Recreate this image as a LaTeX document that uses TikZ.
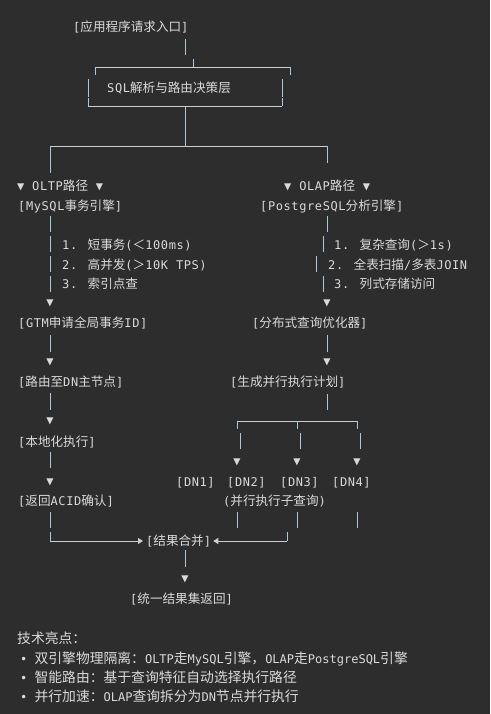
\documentclass[tikz,border=0pt]{standalone}
\usepackage{fontspec}
\setmainfont{DejaVu Sans Mono}[LetterSpace=5]
\newfontfamily\cjk{Noto Sans CJK SC}[Scale=1.05]
\newfontfamily\cjkbig{Noto Sans CJK SC}[Scale=1.15]
\newfontfamily\monobig{DejaVu Sans Mono}
\newcommand\zh[1]{{\cjk #1}}
\newcommand\zhb[1]{{\cjkbig #1}}
\usetikzlibrary{arrows.meta}
\definecolor{bg}{HTML}{2D2D2D}
\definecolor{fg}{HTML}{DADADA}
\definecolor{barcol}{HTML}{A9C9E0}
\definecolor{rulecol}{HTML}{CDCDCD}

\begin{document}
\begin{tikzpicture}[x=1pt, y=-1pt,
		txt/.style={anchor=west, inner sep=0pt, text=fg, text height=9.5pt, text depth=0pt, font=\fontsize{12}{14}\selectfont},
		note/.style={txt, font=\fontsize{12}{14}\monobig},
		tri/.style={inner sep=0pt, text=fg, font=\fontsize{12}{14}\selectfont},
		bar/.style={barcol, line width=1pt},
		rule/.style={rulecol, line width=0.8pt}]
		\fill[bg] (0,0) rectangle (490,714);
		% entry and decision layer
		\node[txt] (entry) at (73,27) {[\zh{应用程序请求入口}]};
		\draw[bar] (185,39) -- (185,55);
		\draw[bar] (193,59) -- (193,67);
		\draw[rule] (95,67) -- (290,67);
		\draw[bar] (95,67) -- (95,75);
		\draw[bar] (290,67) -- (290,75);
		\draw[bar] (88,79) -- (88,97);
		\draw[bar] (282,79) -- (282,97);
		\node[txt] (parse) at (107,88) {SQL\zh{解析与路由决策层}};
		\draw[bar] (88,98) -- (88,106);
		\draw[bar] (282,98) -- (282,106);
		\draw[rule] (88,106) -- (282,106);
		\draw[bar] (185,107) -- (185,146);
		\draw[rule] (50,146) -- (327,146);
		\draw[bar] (50,146) -- (50,173);
		\draw[bar] (327,146) -- (327,163);
		% OLTP path
		\node[txt] (oltp) at (17,186) {▼ OLTP\zh{路径} ▼};
		\node[txt] (mysql) at (18,206) {[MySQL\zh{事务引擎}]};
		\draw[bar] (50,216) -- (50,232);
		\foreach \y in {244,264,284}
			\draw[bar] (50,\y-8) -- (50,\y+8);
		\node[txt] (tp1) at (62,245) {1. \zh{短事务}(\zh{＜}100ms)};
		\node[txt] (tp2) at (62,265) {2. \zh{高并发}(\zh{＞}10K TPS)};
		\node[txt] (tp3) at (62,284) {3. \zh{索引点查}};
		\node[tri] at (50,303) {▼};
		\node[txt] (gtm) at (18,323) {[GTM\zh{申请全局事务}ID]};
		\draw[bar] (50,335) -- (50,352);
		\node[tri] at (50,362) {▼};
		\node[txt] (route) at (18,382) {[\zh{路由至}DN\zh{主节点}]};
		\draw[bar] (50,393) -- (50,410);
		\node[tri] at (50,421) {▼};
		\node[txt] (local) at (18,442) {[\zh{本地化执行}]};
		\draw[bar] (50,452) -- (50,468);
		\node[tri] at (50,482) {▼};
		\node[txt] (acid) at (18,501) {[\zh{返回}ACID\zh{确认}]};
		\draw[bar] (50,512) -- (50,528);
		% OLAP path
		\node[txt] (olap) at (284,186) {▼ OLAP\zh{路径} ▼};
		\node[txt] (pg) at (260,206) {[PostgreSQL\zh{分析引擎}]};
		\draw[bar] (327,216) -- (327,232);
		\draw[bar] (323,236) -- (323,252);
		\draw[bar] (316,256) -- (316,272);
		\draw[bar] (323,276) -- (323,292);
		\node[txt] (ap1) at (334,245) {1. \zh{复杂查询}(\zh{＞}1s)};
		\node[txt] (ap2) at (328,265) {2. \zh{全表扫描}/\zh{多表}JOIN};
		\node[txt] (ap3) at (334,284) {3. \zh{列式存储访问}};
		\node[tri] at (327,303) {▼};
		\node[txt] (opt) at (252,323) {[\zh{分布式查询优化器}]};
		\draw[bar] (327,335) -- (327,352);
		\node[tri] at (327,362) {▼};
		\node[txt] (plan) at (230,382) {[\zh{生成并行执行计划}]};
		\draw[bar] (327,394) -- (327,410);
		\draw[rule] (237,421) -- (357,421);
		\foreach \x in {237,297,357} {
			\draw[bar] (\x,421) -- (\x,429);
			\draw[bar] (\x+3,433) -- (\x+3,449);
			\node[tri] at (\x,462) {▼};
			\draw[bar] (\x,512) -- (\x,528);
		}
		\node[txt] (dn1) at (176,482) {[DN1]};
		\node[txt] (dn2) at (227,482) {[DN2]};
		\node[txt] (dn3) at (280,482) {[DN3]};
		\node[txt] (dn4) at (332,482) {[DN4]};
		\node[txt] (sub) at (223,501) {(\zh{并行执行子查询})};
		% merge
		\node[txt] (mrg) at (146,541) {[\zh{结果合并}]};
		\draw[bar] (50,532) -- (50,541);
		\draw[rule, -{Triangle[length=5pt, width=6pt]}, shorten >=3pt] (50,541) -- (mrg.west |- 50,541);
		\draw[bar] (287,532) -- (287,541);
		\draw[rule, -{Triangle[length=5pt, width=6pt]}, shorten >=2pt] (287,541) -- (mrg.east |- 287,541);
		\draw[bar] (185,550) -- (185,567);
		\node[tri] at (185,579) {▼};
		\node[txt] (ret) at (130,599) {[\zh{统一结果集返回}]};
		% highlights
		\node[note] (hl) at (17,639) {\zhb{技术亮点：}};
		\node[note] (hl1) at (20,659) {• \zhb{双引擎物理隔离：}OLTP\zhb{走}MySQL\zhb{引擎，}OLAP\zhb{走}PostgreSQL\zhb{引擎}};
		\node[note] (hl2) at (20,678) {• \zhb{智能路由：基于查询特征自动选择执行路径}};
		\node[note] (hl3) at (20,697) {• \zhb{并行加速：}OLAP\zhb{查询拆分为}DN\zhb{节点并行执行}};
	\end{tikzpicture}
\end{document}
